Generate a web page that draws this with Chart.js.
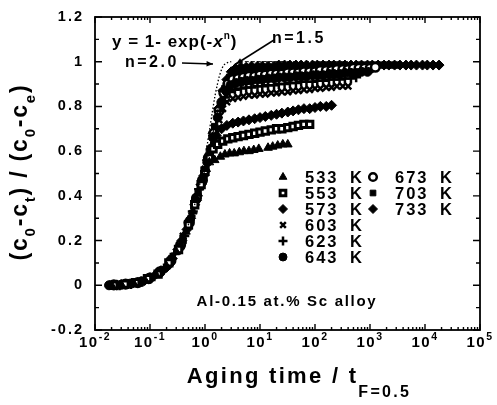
<!DOCTYPE html>
<html>
<head>
<meta charset="utf-8">
<script src="https://cdn.jsdelivr.net/npm/chart.js@4.4.1/dist/chart.umd.min.js"></script>
<style>
  html, body { margin: 0; padding: 0; background: #fff; }
  #wrap { width: 497px; height: 405px; }
</style>
</head>
<body>
<div id="wrap"><canvas id="kinetics"></canvas></div>
<script>
// Normalised precipitation kinetics, Al-0.15 at.% Sc, [t / t(F=0.5), fraction]
const temps = ['533', '553', '573', '603', '623', '643', '673', '703', '733'];

const k533 = [[0.02,0],[0.03,0.003],[0.05,0.01],[0.08,0.025],[0.13,0.045],[0.2,0.085],[0.3,0.15],[0.45,0.24],[0.6,0.33],[0.75,0.41],[0.9,0.47],[1.05,0.52],[1.2,0.55],
  [1.5,0.56],[1.9,0.575],[2.3,0.585],[2.8,0.59],[3.4,0.59],[4.2,0.595],[5.1,0.6],[6.3,0.6],[7.7,0.605],[9.5,0.61],[14,0.615],[17,0.62],[21,0.625],[26,0.63],[32,0.63]];
const k553 = [[0.022,0],[0.035,0.005],[0.055,0.012],[0.09,0.03],[0.14,0.05],[0.22,0.1],[0.33,0.16],[0.5,0.27],[0.65,0.36],[0.85,0.45],[1.0,0.51],[1.2,0.57],[1.4,0.61],
  [1.7,0.63],[2.1,0.645],[2.6,0.655],[3.2,0.66],[4,0.665],[5,0.67],[6.3,0.675],[8,0.68],[10,0.685],[12.5,0.69],[16,0.695],[20,0.7],[25,0.7],[32,0.705],[40,0.71],[50,0.715],[63,0.72],[80,0.72]];
const k573 = [[0.025,0.002],[0.04,0.006],[0.065,0.015],[0.1,0.03],[0.16,0.065],[0.25,0.12],[0.38,0.2],[0.55,0.3],[0.7,0.38],[0.95,0.49],[1.15,0.56],[1.35,0.62],[1.6,0.67],
  [2,0.7],[2.5,0.715],[3.2,0.725],[4,0.73],[5,0.735],[6.3,0.74],[8,0.745],[10,0.75],[12.5,0.755],[16,0.76],[20,0.765],[25,0.77],[32,0.775],[40,0.78],[50,0.785],[63,0.79],[80,0.79],[100,0.795],[125,0.8],[160,0.8],[200,0.805]];
const k603 = [[0.02,0.004],[0.032,0.004],[0.05,0.008],[0.075,0.02],[0.11,0.04],[0.17,0.07],[0.27,0.13],[0.4,0.22],[0.58,0.32],[0.8,0.44],[1.0,0.52],[1.25,0.6],[1.5,0.67],[1.8,0.74],[2.1,0.79],
  [2.5,0.82],[3.2,0.835],[4,0.84],[5,0.845],[6.3,0.85],[8,0.85],[10,0.855],[12.5,0.855],[16,0.86],[20,0.86],[25,0.865],[32,0.865],[40,0.87],[50,0.87],[63,0.875],[80,0.875],[100,0.88],[125,0.88],[160,0.885],[200,0.885],[250,0.89],[320,0.89],[400,0.89]];
const k623 = [[0.028,0],[0.045,0.006],[0.07,0.018],[0.12,0.04],[0.18,0.075],[0.28,0.14],[0.42,0.22],[0.6,0.33],[0.78,0.43],[1.0,0.51],[1.3,0.62],[1.6,0.71],[1.9,0.78],[2.3,0.84],
  [2.8,0.865],[3.5,0.875],[4.5,0.88],[5.6,0.885],[7,0.885],[9,0.89],[11,0.89],[14,0.895],[18,0.895],[22,0.9],[28,0.9],[35,0.905],[45,0.905],[56,0.91],[70,0.91],[90,0.91],[110,0.915],[140,0.915],[180,0.92],[220,0.92],[280,0.92],[350,0.925],[450,0.925],[560,0.93]];
const k643 = [[0.018,0],[0.03,0.002],[0.045,0.008],[0.07,0.015],[0.1,0.035],[0.15,0.055],[0.23,0.1],[0.35,0.17],[0.5,0.28],[0.68,0.38],[0.88,0.46],[1.1,0.55],[1.4,0.66],[1.7,0.75],[2.0,0.82],[2.4,0.87],
  [2.9,0.895],[3.6,0.905],[4.5,0.91],[5.6,0.915],[7,0.915],[9,0.92],[11,0.92],[14,0.925],[18,0.925],[22,0.93],[28,0.93],[35,0.93],[45,0.935],[56,0.935],[70,0.935],[90,0.94],[110,0.94],[140,0.94],[180,0.945],[220,0.945],[280,0.945],[350,0.95],[450,0.95],[560,0.95],[700,0.955],[900,0.955]];
const k673 = [[0.022,0.002],[0.036,0.005],[0.06,0.012],[0.095,0.03],[0.15,0.06],[0.24,0.11],[0.36,0.18],[0.52,0.28],[0.7,0.39],[0.9,0.47],[1.15,0.57],[1.45,0.68],[1.8,0.78],[2.2,0.86],[2.6,0.9],
  [3.2,0.92],[4,0.925],[5,0.93],[6.3,0.935],[8,0.935],[10,0.94],[12.5,0.94],[16,0.945],[20,0.945],[25,0.945],[32,0.95],[40,0.95],[50,0.95],[63,0.955],[80,0.955],[100,0.955],[125,0.96],[160,0.96],[200,0.96],[250,0.965],[320,0.965],[400,0.965],[500,0.97],[630,0.97],[800,0.97],[1000,0.97],[1250,0.975]];
const k703 = [[0.02,0.002],[0.04,0.006],[0.063,0.014],[0.1,0.032],[0.16,0.062],[0.25,0.12],[0.4,0.2],[0.56,0.3],[0.75,0.41],[0.95,0.49],[1.2,0.6],[1.5,0.71],[1.9,0.81],[2.3,0.88],[2.8,0.93],
  [3.4,0.95],[4.2,0.955],[5.2,0.96],[6.5,0.96],[8,0.965],[10,0.965],[12.5,0.965],[16,0.97],[20,0.97],[25,0.97],[32,0.97],[40,0.975],[50,0.975],[63,0.975],[80,0.975],[100,0.975],[125,0.98],[160,0.98],[200,0.98],[250,0.98],[320,0.98],[400,0.98],[500,0.98],[630,0.985],[800,0.985],[1000,0.985],[1250,0.985],[1600,0.985],[2000,0.985],[2500,0.985],[3200,0.985]];
const k733 = [[0.025,0],[0.05,0.01],[0.08,0.022],[0.13,0.05],[0.2,0.08],[0.32,0.16],[0.47,0.25],[0.65,0.36],[0.85,0.45],[1.1,0.56],[1.4,0.68],[1.75,0.79],[2.1,0.87],[2.5,0.92],[3,0.955],
  [3.6,0.97],[4.5,0.975],[5.6,0.975],[7,0.98],[9,0.98],[11,0.98],[14,0.98],[18,0.98],[22,0.985],[28,0.985],[35,0.985],[45,0.985],[56,0.985],[70,0.985],[90,0.985],[110,0.985],[140,0.985],[180,0.985],[220,0.985],[280,0.985],[350,0.985],[450,0.985],[560,0.985],[700,0.985],[900,0.985],[1100,0.985],[1400,0.985],[1800,0.985],[2200,0.985],[2800,0.985],[3500,0.985],[4500,0.985],[5600,0.985],[7000,0.985],[9000,0.985],[11000,0.985],[14000,0.985],[18000,0.985]];

// JMA curves y = 1 - exp(-x^n)
const jmaN20 = [[0.45,0.24],[0.6,0.33],[0.75,0.42],[0.9,0.51],[1.0,0.57],[1.1,0.63],[1.2,0.69],[1.35,0.77],[1.5,0.84],[1.65,0.89],[1.8,0.93],[2.0,0.965],[2.2,0.985],[2.5,0.995],[3,1.0]];
const jmaN15 = [[0.9,0.47],[1.0,0.52],[1.2,0.6],[1.4,0.68],[1.7,0.78],[2.0,0.86],[2.4,0.92],[2.8,0.96],[3.3,0.985],[4,0.997],[5,1.0],[400,1.0]];

const xTickExp = [-2, -1, 0, 1, 2, 3, 4, 5];
const yTickLabels = ['-0.2', '0', '0.2', '0.4', '0.6', '0.8', '1', '1.2'];

const series = [k533, k553, k573, k603, k623, k643, k673, k703, k733];

const FONT = '"Liberation Sans", Arial, Helvetica, sans-serif';

const markers = [
  { pointStyle: 'triangle', radius: 5, bg: '#000', bw: 1 },
  { pointStyle: 'rect', radius: 4.5, bg: '#fff', bw: 3 },
  { pointStyle: 'rectRot', radius: 5, bg: '#000', bw: 1 },
  { pointStyle: 'crossRot', radius: 4.5, bg: '#000', bw: 2.5 },
  { pointStyle: 'cross', radius: 5, bg: '#000', bw: 2.5 },
  { pointStyle: 'circle', radius: 4.5, bg: '#000', bw: 1 },
  { pointStyle: 'circle', radius: 4.3, bg: '#fff', bw: 2.5 },
  { pointStyle: 'rect', radius: 4.5, bg: '#000', bw: 1 },
  { pointStyle: 'rectRot', radius: 5, bg: '#000', bw: 1 }
];

const toXY = arr => arr.map(([t, v]) => ({ x: t, y: v }));

const datasets = series.map((s, i) => ({
  label: temps[i] + ' K',
  data: toXY(s),
  showLine: false,
  pointStyle: markers[i].pointStyle,
  pointRadius: markers[i].radius,
  pointBackgroundColor: markers[i].bg,
  pointBorderColor: '#000',
  pointBorderWidth: markers[i].bw,
  order: 1
}));

datasets.push({
  label: 'n=2.0',
  data: toXY(jmaN20),
  showLine: true,
  borderColor: '#000',
  borderWidth: 1.3,
  borderDash: [1.5, 2],
  pointRadius: 0,
  tension: 0.3,
  order: 0
}, {
  label: 'n=1.5',
  data: toXY(jmaN15),
  showLine: true,
  borderColor: '#000',
  borderWidth: 1,
  borderDash: [4, 2],
  pointRadius: 0,
  tension: 0.3,
  order: 0
});

// text made of pieces: [text, size, dy, italic]
function drawParts(ctx, parts, x, y, align, spacing) {
  ctx.letterSpacing = (spacing || 0) + 'px';
  let total = 0;
  const widths = parts.map(p => {
    ctx.font = `${p[3] ? 'italic ' : ''}bold ${p[1]}px ${FONT}`;
    const w = ctx.measureText(p[0]).width;
    total += w;
    return w;
  });
  let cx = align === 'center' ? x - total / 2 : align === 'right' ? x - total : x;
  parts.forEach((p, i) => {
    ctx.font = `${p[3] ? 'italic ' : ''}bold ${p[1]}px ${FONT}`;
    ctx.fillText(p[0], cx, y + (p[2] || 0));
    cx += widths[i];
  });
  ctx.letterSpacing = '0px';
}

function arrow(ctx, x0, y0, x1, y1) {
  const ang = Math.atan2(y1 - y0, x1 - x0);
  ctx.beginPath();
  ctx.moveTo(x0, y0);
  ctx.lineTo(x1, y1);
  ctx.stroke();
  ctx.beginPath();
  ctx.moveTo(x1, y1);
  ctx.lineTo(x1 - 7 * Math.cos(ang - 0.4), y1 - 7 * Math.sin(ang - 0.4));
  ctx.lineTo(x1 - 7 * Math.cos(ang + 0.4), y1 - 7 * Math.sin(ang + 0.4));
  ctx.closePath();
  ctx.fill();
}

const frameAndText = {
  id: 'frameAndText',
  afterDraw(chart) {
    const { ctx, chartArea: a, scales: { x, y } } = chart;
    ctx.save();
    ctx.fillStyle = '#000';
    ctx.strokeStyle = '#000';

    // frame with inward ticks on all four sides
    ctx.lineWidth = 1.8;
    ctx.strokeRect(a.left, a.top, a.right - a.left, a.bottom - a.top);
    ctx.lineWidth = 1.4;
    ctx.beginPath();
    xTickExp.forEach(e => {
      for (let m = 1; m <= 9; m++) {
        if (e === xTickExp[xTickExp.length - 1] && m > 1) break;
        const px = x.getPixelForValue(m * Math.pow(10, e));
        const len = m === 1 ? 6 : 3;
        ctx.moveTo(px, a.bottom); ctx.lineTo(px, a.bottom - len);
        ctx.moveTo(px, a.top); ctx.lineTo(px, a.top + len);
      }
    });
    const yVals = yTickLabels.map(Number);
    yVals.forEach((v, i) => {
      const py = y.getPixelForValue(v);
      ctx.moveTo(a.left, py); ctx.lineTo(a.left + 7, py);
      ctx.moveTo(a.right, py); ctx.lineTo(a.right - 7, py);
      if (i < yVals.length - 1) {
        const pm = y.getPixelForValue((v + yVals[i + 1]) / 2);
        ctx.moveTo(a.left, pm); ctx.lineTo(a.left + 4, pm);
        ctx.moveTo(a.right, pm); ctx.lineTo(a.right - 4, pm);
      }
    });
    ctx.stroke();

    // tick labels
    ctx.textBaseline = 'middle';
    yVals.forEach((v, i) => {
      drawParts(ctx, [[yTickLabels[i], 14.5, 0]], a.left - 11, y.getPixelForValue(v), 'right', 2);
    });
    ctx.textBaseline = 'alphabetic';
    xTickExp.forEach(e => {
      drawParts(ctx, [['10', 15, 0], [String(e), 10.5, -7]], x.getPixelForValue(Math.pow(10, e)), a.bottom + 17, 'center', 1.5);
    });

    // axis titles
    drawParts(ctx, [['Aging time / t', 22, 0], ['F=0.5', 16, 14]], 299, 383, 'center', 2.3);
    ctx.save();
    ctx.translate(27, 172);
    ctx.rotate(-Math.PI / 2);
    drawParts(ctx, [['(c', 23, 0], ['0', 15, 8], ['-c', 23, 0], ['t', 15, 8], [') / (c', 23, 0], ['0', 15, 8], ['-c', 23, 0], ['e', 15, 8], [')', 23, 0]], 0, 0, 'center', 1.8);
    ctx.restore();

    // annotations
    drawParts(ctx, [['y = 1- exp(-', 17, 0], ['x', 17, 0, true], ['n', 10, -8], [')', 17, 0]], 112, 47, 'left', 1);
    drawParts(ctx, [['n=1.5', 16, 0]], 272, 43, 'left', 2.5);
    drawParts(ctx, [['n=2.0', 16, 0]], 125, 67, 'left', 2.5);
    ctx.lineWidth = 1.5;
    arrow(ctx, 182, 63, 213, 64);
    arrow(ctx, 274, 40, 236, 64);

    drawParts(ctx, [['Al-0.15 at.% Sc alloy', 15, 0]], 287, 306, 'center', 1.7);

    // legend, two columns
    ctx.textBaseline = 'middle';
    temps.forEach((tk, i) => {
      const col = i < 6 ? 0 : 1;
      const row = i < 6 ? i : i - 6;
      const mx = col === 0 ? 283 : 373;
      const my = 177 + row * 16;
      const mk = markers[i];
      ctx.fillStyle = mk.bg;
      ctx.strokeStyle = '#000';
      ctx.lineWidth = mk.bw;
      Chart.helpers.drawPoint(ctx, { pointStyle: mk.pointStyle, radius: mk.radius - 0.5, rotation: 0, borderWidth: mk.bw }, mx, my);
      ctx.fillStyle = '#000';
      drawParts(ctx, [[tk, 16.5, 0]], mx + 22, my + 1, 'left', 2);
      drawParts(ctx, [['K', 16.5, 0]], mx + 67, my + 1, 'left', 0);
    });
    ctx.restore();
  }
};

new Chart(document.getElementById('kinetics'), {
  type: 'scatter',
  data: { datasets },
  options: {
    responsive: true,
    maintainAspectRatio: false,
    animation: false,
    devicePixelRatio: 1,
    layout: { padding: { left: 0, right: 17, top: 17, bottom: 0 } },
    scales: {
      x: {
        type: 'logarithmic',
        min: 0.01,
        max: 100000,
        grid: { display: false },
        border: { display: false },
        ticks: { display: false },
        afterFit: s => { s.height = 75; }
      },
      y: {
        min: -0.2,
        max: 1.2,
        grid: { display: false },
        border: { display: false },
        ticks: { display: false },
        afterFit: s => { s.width = 95; }
      }
    },
    plugins: {
      legend: { display: false },
      tooltip: { enabled: false }
    }
  },
  plugins: [frameAndText]
});
</script>
</body>
</html>
